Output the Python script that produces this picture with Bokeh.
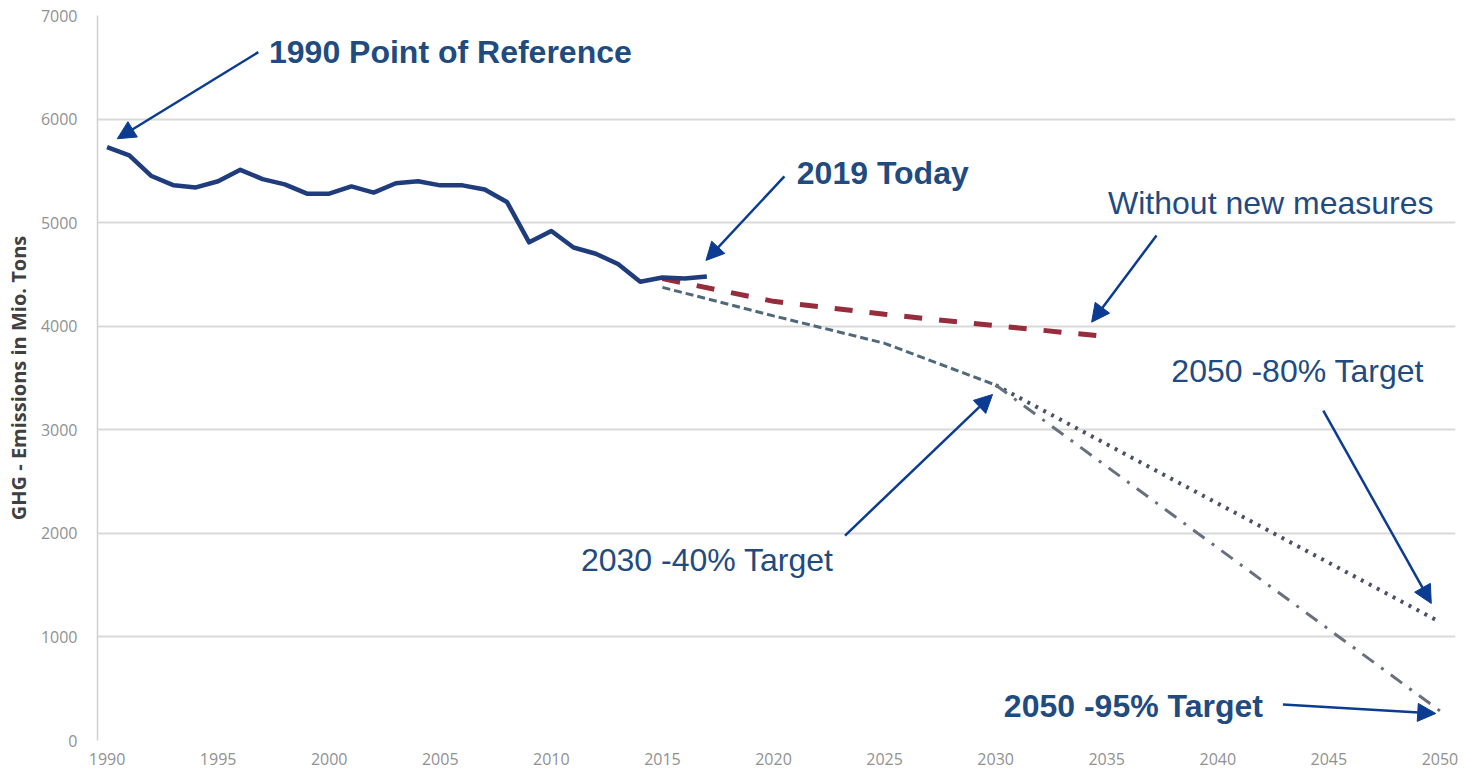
from bokeh.plotting import figure
from bokeh.models import Range1d, FixedTicker, Arrow, NormalHead, Label
from bokeh.embed import file_html
from bokeh.resources import INLINE

# ---- data ----
hist_years = list(range(1990, 2018))
hist_values = [5730, 5650, 5450, 5360, 5340, 5400, 5510, 5420, 5370, 5280,
               5280, 5350, 5290, 5380, 5400, 5360, 5360, 5320, 5200, 4810,
               4920, 4760, 4700, 4600, 4430, 4470, 4460, 4480]

wom_years = [2015, 2020, 2025, 2030, 2035]          # without new measures
wom_values = [4460, 4240, 4115, 4005, 3900]

path_years = [2015, 2020, 2025, 2030]               # path to 2030 target
path_values = [4375, 4100, 3835, 3432]

t80_years = [2030, 2050]
t80_values = [3432, 1144]

t95_years = [2030, 2050]
t95_values = [3432, 286]

x_ticks = list(range(1990, 2051, 5))
y_ticks = list(range(0, 7001, 1000))

# annotations: text, x, y (baseline), bold
texts = [
    ("1990 Point of Reference", 1997.29, 6650, True),
    ("2019 Today", 2021.05, 5482, True),
    ("Without new measures", 2035.06, 5192, False),
    ("2030 -40% Target", 2011.33, 1742, False),
    ("2050 -80% Target", 2037.91, 3570, False),
    ("2050 -95% Target", 2030.37, 332, True),
]
# arrows: x_start, y_start, x_end, y_end
arrows = [
    (1996.81, 6646, 1990.46, 5810),
    (2020.49, 5446, 2016.96, 4635),
    (2037.24, 4876, 2034.32, 4039),
    (2023.22, 1979, 2029.86, 3341),
    (2044.75, 3186, 2049.61, 1323),
    (2042.93, 348, 2049.81, 261),
]

TEXT_COLOR = "#1f4b80"
ARROW_COLOR = "#0b3c91"

p = figure(width=1464, height=769,
           x_range=Range1d(1989.57, 2050.70), y_range=Range1d(0, 7000),
           output_backend="svg", toolbar_location=None,
           min_border_left=97, min_border_right=9,
           min_border_top=15, min_border_bottom=29)
p.outline_line_color = None
p.background_fill_color = "white"
p.border_fill_color = "white"

p.xgrid.grid_line_color = None
p.ygrid.grid_line_color = "#d9d9d9"
p.ygrid.grid_line_width = 2
p.xaxis.ticker = FixedTicker(ticks=x_ticks)
p.yaxis.ticker = FixedTicker(ticks=y_ticks)

for ax in (p.xaxis[0], p.yaxis[0]):
    ax.major_tick_line_color = None
    ax.minor_tick_line_color = None
    ax.major_label_text_font = "Open Sans"
    ax.major_label_text_font_size = "16px"
    ax.major_label_text_color = "#919191"
p.xaxis.axis_line_color = None
p.xaxis.major_label_standoff = 6
p.yaxis.axis_line_color = "#d0d0d0"
p.yaxis.axis_line_width = 1.5
p.yaxis.major_label_standoff = 14
p.yaxis.axis_label = "GHG - Emissions in Mio. Tons"
p.yaxis.axis_label_text_font = "Open Sans"
p.yaxis.axis_label_text_font_style = "bold"
p.yaxis.axis_label_text_font_size = "20px"
p.yaxis.axis_label_text_color = "#404040"
p.yaxis.axis_label_standoff = 6

# series
p.line(path_years, path_values, line_color="#4f687a", line_width=3, line_dash="8 4")
p.line(t80_years, t80_values, line_color="#4a5068", line_width=4, line_dash="3 6")
p.line(t95_years, t95_values, line_color="#66707e", line_width=3, line_dash="14 9 3 9")
p.line(wom_years, wom_values, line_color="#962c3c", line_width=5, line_dash="18 17")
p.line(hist_years, hist_values, line_color="#1f3d7c", line_width=4.5, line_join="round")

for xs, ys, xe, ye in arrows:
    p.add_layout(Arrow(end=NormalHead(size=18, fill_color=ARROW_COLOR, line_color=ARROW_COLOR),
                       x_start=xs, y_start=ys, x_end=xe, y_end=ye,
                       line_color=ARROW_COLOR, line_width=2.5))

for t, x, y, bold in texts:
    p.add_layout(Label(x=x, y=y, text=t, text_font="Liberation Sans",
                       text_font_size="32px",
                       text_font_style="bold" if bold else "normal",
                       text_color=TEXT_COLOR, text_baseline="alphabetic",
                       text_align="left"))

open("out.html", "w").write(file_html(p, INLINE))
